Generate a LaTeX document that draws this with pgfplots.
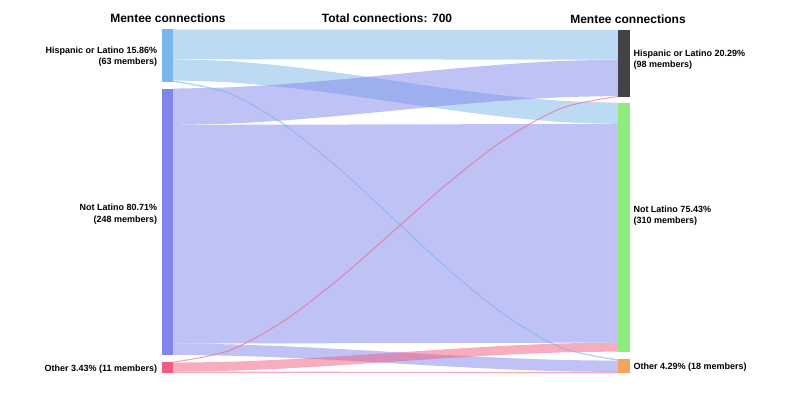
\documentclass[border=0pt]{standalone}
\usepackage{pgfplots}
\pgfplotsset{compat=1.18}
\usepgfplotslibrary{fillbetween}
\usepackage{fontspec}
\setmainfont{Liberation Sans}
\definecolor{hisp}{HTML}{7CB5EC}
\definecolor{notl}{HTML}{8085E9}
\definecolor{oth}{HTML}{F15C80}
\definecolor{rh}{HTML}{434348}
\definecolor{rn}{HTML}{90ED7D}
\definecolor{ro}{HTML}{F7A35C}
\tikzset{
  lbl/.style={font=\bfseries\fontsize{9}{11.5}\selectfont, inner sep=0pt},
  ttl/.style={font=\bfseries\fontsize{12}{14}\selectfont},
}
\begin{document}
\begin{tikzpicture}
\begin{axis}[
  scale only axis, width=792pt, height=407pt,
  xmin=0, xmax=792, ymin=0, ymax=407, y dir=reverse,
  axis line style={draw=none}, ticks=none, clip=false,
]
% ---- links ----
% Hispanic -> Hispanic (63)
\addplot[fill=hisp, fill opacity=0.5, draw=none] coordinates {(173,29.5)(618,30)(618,59.7)(173,59.2)};
% Hispanic -> Not Latino (45)
\addplot[draw=none, smooth, name path=hnT] coordinates {(173,59.2)(228.6,61.07)(284.3,66.0)(339.9,72.96)(395.5,80.95)(451.1,88.94)(506.8,95.9)(562.4,100.83)(618,102.7)};
\addplot[draw=none, smooth, name path=hnB] coordinates {(173,80.41)(228.6,82.28)(284.3,87.21)(339.9,94.17)(395.5,102.16)(451.1,110.15)(506.8,117.11)(562.4,122.04)(618,123.91)};
\addplot[fill=hisp, fill opacity=0.5, draw=none] fill between[of=hnT and hnB];
% Not Latino -> Hispanic (77)
\addplot[draw=none, smooth, name path=nhT] coordinates {(173,88.6)(228.6,87.36)(284.3,84.08)(339.9,79.46)(395.5,74.15)(451.1,68.84)(506.8,64.22)(562.4,60.94)(618,59.7)};
\addplot[draw=none, smooth, name path=nhB] coordinates {(173,124.9)(228.6,123.66)(284.3,120.38)(339.9,115.76)(395.5,110.45)(451.1,105.14)(506.8,100.52)(562.4,97.24)(618,96.0)};
\addplot[fill=notl, fill opacity=0.5, draw=none] fill between[of=nhT and nhB];
% Not Latino -> Not Latino (464)
\addplot[fill=notl, fill opacity=0.5, draw=none] coordinates {(173,124.9)(618,123.9)(618,342.6)(173,343.6)};
% Not Latino -> Other (24)
\addplot[draw=none, smooth, name path=noT] coordinates {(173,343.6)(228.6,344.34)(284.3,346.27)(339.9,349.01)(395.5,352.15)(451.1,355.29)(506.8,358.03)(562.4,359.97)(618,360.7)};
\addplot[draw=none, smooth, name path=noB] coordinates {(173,354.91)(228.6,355.65)(284.3,357.58)(339.9,360.32)(395.5,363.46)(451.1,366.6)(506.8,369.34)(562.4,371.28)(618,372.01)};
\addplot[fill=notl, fill opacity=0.5, draw=none] fill between[of=noT and noB];
% Other -> Not Latino (19)
\addplot[draw=none, smooth, name path=onT] coordinates {(173,362.64)(228.6,361.78)(284.3,359.51)(339.9,356.3)(395.5,352.62)(451.1,348.94)(506.8,345.73)(562.4,343.46)(618,342.6)};
\addplot[draw=none, smooth, name path=onB] coordinates {(173,371.6)(228.6,370.74)(284.3,368.47)(339.9,365.26)(395.5,361.58)(451.1,357.9)(506.8,354.69)(562.4,352.42)(618,351.56)};
\addplot[fill=oth, fill opacity=0.5, draw=none] fill between[of=onT and onB];
% Other -> Other (3)
\addplot[fill=oth, fill opacity=0.5, draw=none] coordinates {(173,371.6)(618,372.0)(618,373.4)(173,373.0)};
% Hispanic -> Other (3)
\addplot[draw=hisp, draw opacity=0.6, line width=1.3pt, smooth] coordinates {(173,81.12)(228.6,93.1)(284.3,124.7)(339.9,169.37)(395.5,220.57)(451.1,271.77)(506.8,316.44)(562.4,348.04)(618,360.0)};
% Other -> Hispanic (2)
\addplot[draw=oth, draw opacity=0.6, line width=1.0pt, smooth] coordinates {(173,362.17)(228.6,350.75)(284.3,320.65)(339.9,278.1)(395.5,229.32)(451.1,180.54)(506.8,137.99)(562.4,107.89)(618,96.47)};
% ---- nodes ----
\addplot[fill=hisp, draw=none] coordinates {(161.5,29.5)(173,29.5)(173,81.83)(161.5,81.83)};
\addplot[fill=notl, draw=none] coordinates {(161.5,88.6)(173,88.6)(173,354.91)(161.5,354.91)};
\addplot[fill=oth, draw=none] coordinates {(161.5,361.7)(173,361.7)(173,373.0)(161.5,373.0)};
\addplot[fill=rh, draw=none] coordinates {(618,30)(630,30)(630,96.94)(618,96.94)};
\addplot[fill=rn, draw=none] coordinates {(618,102.7)(630,102.7)(630,351.56)(618,351.56)};
\addplot[fill=ro, draw=none] coordinates {(618,359.3)(630,359.3)(630,373.4)(618,373.4)};
% ---- text ----
\node[ttl] at (axis cs:168,18.5) {Mentee connections};
\node[ttl] at (axis cs:387,18.5) {Total connections: 700};
\node[ttl] at (axis cs:628,19.5) {Mentee connections};
\node[lbl, anchor=east, align=right] at (axis cs:157.3,56.5) {Hispanic or Latino 15.86\%\\(63 members)};
\node[lbl, anchor=east, align=right] at (axis cs:157.3,214) {Not Latino 80.71\%\\(248 members)};
\node[lbl, anchor=east, align=right] at (axis cs:157.3,369) {Other 3.43\% (11 members)};
\node[lbl, anchor=west, align=left] at (axis cs:633.3,59.5) {Hispanic or Latino 20.29\%\\(98 members)};
\node[lbl, anchor=west, align=left] at (axis cs:633.3,215.5) {Not Latino 75.43\%\\(310 members)};
\node[lbl, anchor=west, align=left] at (axis cs:633.3,367.5) {Other 4.29\% (18 members)};
\end{axis}
\end{tikzpicture}
\end{document}
